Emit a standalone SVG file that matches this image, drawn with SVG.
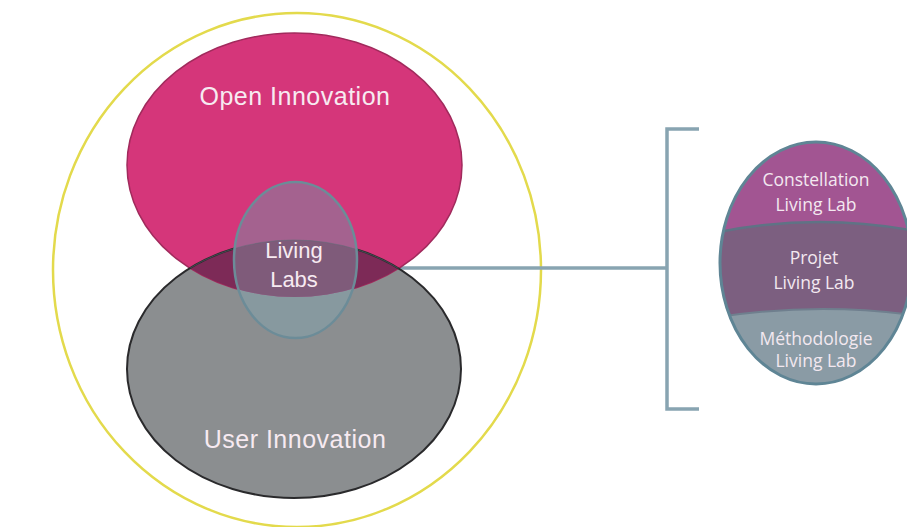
<svg xmlns="http://www.w3.org/2000/svg" width="907" height="527" viewBox="0 0 907 527">
<style>
.lbl{font-family:"Liberation Sans",Arial,sans-serif;fill:#f7eaf1;text-anchor:middle}
.big{font-size:25px;letter-spacing:0.5px}
.mid{font-size:22px}
.rl{font-family:"Open Sans","Noto Sans",sans-serif;font-size:17.5px;fill:#f3e8f0;text-anchor:middle}
.conn{fill:none;stroke:#88a4b1;stroke-width:3.5}
</style>
<defs>
<clipPath id="cpPink"><ellipse cx="294.5" cy="165" rx="167.5" ry="132"/></clipPath>
<clipPath id="cpGrey"><ellipse cx="294" cy="369" rx="167" ry="129"/></clipPath>
<clipPath id="cpRight"><ellipse cx="816" cy="263" rx="96" ry="121"/></clipPath>
</defs>
<rect width="907" height="527" fill="#ffffff"/>

<g id="outer">
<ellipse cx="297" cy="270" rx="244" ry="257" fill="none" stroke="#e3da4c" stroke-width="2.5"/>
</g>

<g id="connectors">
<path class="conn" d="M358 268 H667"/>
<path class="conn" d="M699 129 H667 V409 H699"/>
</g>

<g id="user-innovation">
<ellipse cx="294" cy="369" rx="167" ry="129" fill="#8b8e90"/>
</g>

<g id="open-innovation">
<ellipse cx="294.5" cy="165" rx="167.5" ry="132" fill="#d5367a" stroke="#a12a5c" stroke-width="1.5"/>
<g clip-path="url(#cpGrey)"><ellipse cx="294.5" cy="165" rx="167.5" ry="132" fill="#7d2a57"/></g>
<text class="lbl big" x="295" y="105">Open Innovation</text>
</g>

<g id="user-outline">
<ellipse cx="294" cy="369" rx="167" ry="129" fill="none" stroke="#2a2a2c" stroke-width="2"/>
<text class="lbl big" x="295" y="448" fill="#eef0f1">User Innovation</text>
</g>

<g id="living-labs">
<ellipse cx="295.5" cy="260" rx="61.5" ry="78" fill="#87999f"/>
<g clip-path="url(#cpPink)">
<ellipse cx="295.5" cy="260" rx="61.5" ry="78" fill="#a4628f"/>
<g clip-path="url(#cpGrey)"><ellipse cx="295.5" cy="260" rx="61.5" ry="78" fill="#7f5b7a"/></g>
</g>
<path d="M127 369 A167 129 0 0 1 461 369" fill="none" stroke="#5d6d78" stroke-width="1" opacity="0.5" clip-path="url(#cpPink)"/>
<ellipse cx="295.5" cy="260" rx="61.5" ry="78" fill="none" stroke="#6c8c98" stroke-width="2.5"/>
<text class="lbl mid" x="294" y="258">Living</text>
<text class="lbl mid" x="294" y="287">Labs</text>
</g>

<g id="living-lab-levels">
<g clip-path="url(#cpRight)">
<rect x="715" y="140" width="200" height="250" fill="#8a9ba5"/>
<path d="M700 320 Q812 300 920 316 V120 H700 Z" fill="#7c5f80"/>
<path d="M700 236 Q812 210 920 232 V120 H700 Z" fill="#a25592"/>
<path d="M700 236 Q812 210 920 232" fill="none" stroke="#5f7385" stroke-width="2.5"/>
<path d="M700 320 Q812 300 920 316" fill="none" stroke="#6f7f8e" stroke-width="2"/>
</g>
<ellipse cx="816" cy="263" rx="96" ry="121" fill="none" stroke="#5f8595" stroke-width="3"/>
<text class="rl" x="816" y="186">Constellation</text>
<text class="rl" x="816" y="211">Living Lab</text>
<text class="rl" x="814" y="264">Projet</text>
<text class="rl" x="814" y="289">Living Lab</text>
<text class="rl" x="816" y="345">Méthodologie</text>
<text class="rl" x="816" y="367">Living Lab</text>
</g>
</svg>
